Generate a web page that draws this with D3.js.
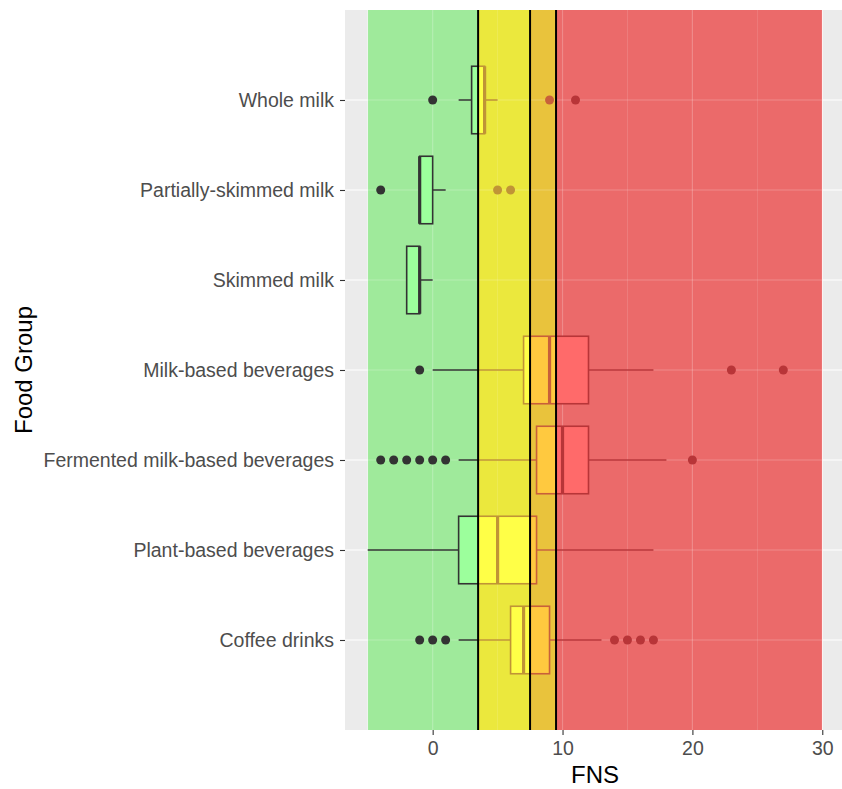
<!DOCTYPE html>
<html><head><meta charset="utf-8">
<script src="https://cdn.jsdelivr.net/npm/d3@7"></script>
<style>body{margin:0;background:#fff}svg{display:block}text{font-family:"Liberation Sans",Arial,sans-serif}</style>
</head><body><svg id="c" width="842" height="789"></svg>
<script>
const categories = ["Whole milk","Partially-skimmed milk","Skimmed milk","Milk-based beverages","Fermented milk-based beverages","Plant-based beverages","Coffee drinks"];
const q1 = [3,-1,-2,7,8,2,6];
const medians = [4,-1,-1,9,10,5,7];
const q3 = [4,0,-1,12,12,8,9];
const whiskerLow = [2,-1,-2,0,2,-5,2];
const whiskerHigh = [5,1,0,17,18,17,13];
const outliers = [[0,9,11],[-4,5,6],[],[-1,23,27],[-4,-3,-2,-1,0,1,20],[],[-1,0,1,14,15,16,17]];
const xTicks = [0,10,20,30];
const xMinor = [-5,5,15,25];
const bandStart = [-5,3.5,7.5,9.5];
const bandEnd = [3.5,7.5,9.5,30];
const thresholds = [3.5,7.5,9.5];
const bandRegion = ["#9fea9b","#ebe83d","#e9c33c","#eb6a6a"];
const bandFill = ["#9cff9c","#ffff47","#ffc93f","#ff6a6a"];
const bandStroke = ["#333333","#c09436","#c8603a","#b83538"];

const svg = d3.select("#c");
const L=345,R=845,T=10,B=730;
const x = d3.scaleLinear().domain([-6.75,31.75]).range([L,R]);
const y = d3.scalePoint().domain(categories).range([T,B]).padding(1);
const bw = y.step()*0.75;

svg.append("rect").attr("x",L).attr("y",T).attr("width",R-L).attr("height",B-T).attr("fill","#ebebeb");
function grid(g, col, op){
  g.selectAll(".mn").data(xMinor).join("line").attr("x1",d=>x(d)).attr("x2",d=>x(d)).attr("y1",T).attr("y2",B)
    .attr("stroke",col).attr("stroke-width",0.6).attr("opacity",op);
  g.selectAll(".mj").data(xTicks).join("line").attr("x1",d=>x(d)).attr("x2",d=>x(d)).attr("y1",T).attr("y2",B)
    .attr("stroke",col).attr("stroke-width",1.2).attr("opacity",op);
  g.selectAll(".hy").data(categories).join("line").attr("x1",L).attr("x2",R).attr("y1",d=>y(d)).attr("y2",d=>y(d))
    .attr("stroke",col).attr("stroke-width",1.2).attr("opacity",op);
}
grid(svg.append("g"),"#ffffff",1);

const defs = svg.append("defs");
bandStart.forEach((s,i)=>{
  defs.append("clipPath").attr("id","clip"+i).append("rect")
    .attr("x",x(s)).attr("y",T).attr("width",x(bandEnd[i])-x(s)).attr("height",B-T);
});

function drawBoxes(g, fill, stroke){
  categories.forEach((c,i)=>{
    const cy=y(c);
    g.append("line").attr("x1",x(whiskerLow[i])).attr("x2",x(q1[i])).attr("y1",cy).attr("y2",cy).attr("stroke",stroke).attr("stroke-width",1.6);
    g.append("line").attr("x1",x(q3[i])).attr("x2",x(whiskerHigh[i])).attr("y1",cy).attr("y2",cy).attr("stroke",stroke).attr("stroke-width",1.6);
    g.append("rect").attr("x",x(q1[i])).attr("y",cy-bw/2).attr("width",x(q3[i])-x(q1[i])).attr("height",bw)
      .attr("fill",fill).attr("stroke",stroke).attr("stroke-width",1.6);
    g.append("line").attr("x1",x(medians[i])).attr("x2",x(medians[i])).attr("y1",cy-bw/2).attr("y2",cy+bw/2).attr("stroke",stroke).attr("stroke-width",3.2);
    g.selectAll(null).data(outliers[i]).join("circle").attr("cx",d=>x(d)).attr("cy",cy).attr("r",4.5).attr("fill",stroke);
  });
}
drawBoxes(svg.append("g"),"#ffffff","#333333");

bandStart.forEach((s,i)=>{
  const g = svg.append("g").attr("clip-path","url(#clip"+i+")");
  g.append("rect").attr("x",x(s)).attr("y",T).attr("width",x(bandEnd[i])-x(s)).attr("height",B-T).attr("fill",bandRegion[i]);
  grid(g.append("g"),"#ffffff",0.22);
  drawBoxes(g, bandFill[i], bandStroke[i]);
});

svg.selectAll(".th").data(thresholds).join("line").attr("x1",d=>x(d)).attr("x2",d=>x(d)).attr("y1",T).attr("y2",B)
  .attr("stroke","#000").attr("stroke-width",2);

const yAxis = svg.append("g").attr("transform",`translate(${L},0)`).call(d3.axisLeft(y).tickSize(5).tickPadding(6));
yAxis.select(".domain").remove();
yAxis.selectAll("line").attr("stroke","#333").attr("stroke-width",1.1);
yAxis.selectAll("text").attr("fill","#4d4d4d").style("font-size","19.5px");
const xAxis = svg.append("g").attr("transform",`translate(0,${B})`).call(d3.axisBottom(x).tickValues(xTicks).tickSize(5).tickPadding(6));
xAxis.select(".domain").remove();
xAxis.selectAll("line").attr("stroke","#333").attr("stroke-width",1.1);
xAxis.selectAll("text").attr("fill","#4d4d4d").style("font-size","19.5px");

svg.append("text").attr("x",(L+R)/2).attr("y",783).attr("text-anchor","middle").style("font-size","24px").attr("fill","#000").text("FNS");
svg.append("text").attr("transform",`translate(32,${(T+B)/2}) rotate(-90)`).attr("text-anchor","middle").style("font-size","24px").attr("fill","#000").text("Food Group");
</script></body></html>
